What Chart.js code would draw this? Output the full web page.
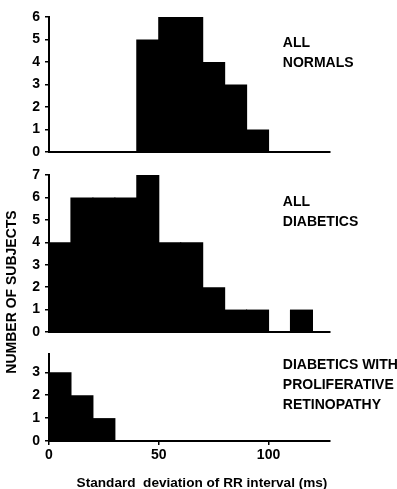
<!DOCTYPE html>
<html><head><meta charset="utf-8">
<script src="https://cdn.jsdelivr.net/npm/chart.js@4"></script>
<style>
html,body{margin:0;padding:0;background:#fff;width:397px;height:489px;overflow:hidden}
canvas{position:absolute;left:0;top:0}
</style></head>
<body>
<canvas id="c1" width="397" height="489"></canvas>
<canvas id="c2" width="397" height="489"></canvas>
<canvas id="c3" width="397" height="489"></canvas>
<script>
// bin centres (ms) of 10 ms wide bins
const binCenters = [5, 15, 25, 35, 45, 55, 65, 75, 85, 95, 105, 115, 125];
const allNormals = [0, 0, 0, 0, 5, 6, 6, 4, 3, 1, 0, 0, 0];
const allDiabetics = [4, 6, 6, 6, 7, 4, 4, 2, 1, 1, 0, 1, 0];
const proliferativeRetinopathy = [3, 2, 1, 0, 0, 0, 0, 0, 0, 0, 0, 0, 0];
const xTickValues = [0, 50, 100];
const normalsLabel = ["ALL", "NORMALS"];
const diabeticsLabel = ["ALL", "DIABETICS"];
const retinopathyLabel = ["DIABETICS WITH", "PROLIFERATIVE", "RETINOPATHY"];
const yTitle = "NUMBER OF SUBJECTS";
const xTitle = "Standard  deviation of RR interval (ms)";

const FONT = '"Liberation Sans", Arial, sans-serif';
Chart.defaults.font.family = FONT;
Chart.defaults.color = '#000';

function makePanel(id, values, yMax, pad, labelLines, labelY, isBottom, extra) {
  const annot = {
    id: 'annot' + id,
    afterDraw(chart) {
      const ctx = chart.ctx;
      ctx.save();
      ctx.font = 'bold 14px ' + FONT;
      ctx.fillStyle = '#000';
      ctx.textBaseline = 'middle';
      ctx.textAlign = 'left';
      const x = chart.scales.x.getPixelForValue(106.5);
      labelLines.forEach((t, i) => ctx.fillText(t, x, labelY + i * 20));
      ctx.restore();
      if (extra) extra(chart);
    }
  };
  return new Chart(document.getElementById(id), {
    type: 'bar',
    data: {
      datasets: [{
        data: binCenters.map((c, i) => ({x: c, y: values[i]})),
        backgroundColor: '#000',
        borderWidth: 0,
        barPercentage: 1.05,
        categoryPercentage: 1
      }]
    },
    options: {
      responsive: false,
      animation: false,
      devicePixelRatio: 1,
      layout: {padding: {left: 0, right: 67, top: pad.top, bottom: pad.bottom}},
      plugins: {legend: {display: false}, tooltip: {enabled: false}},
      scales: {
        x: {
          type: 'linear', min: 0, max: 128, offset: false,
          grid: {display: isBottom, offset: false, drawOnChartArea: false, drawTicks: true, tickLength: 4, color: '#000', lineWidth: 1.5},
          border: {display: true, color: '#000', width: 2},
          ticks: {
            display: isBottom, stepSize: 50, includeBounds: false, padding: 2,
            font: {size: 14, weight: 'bold'}, color: '#000', maxRotation: 0
          },
          afterBuildTicks: s => { if (isBottom) s.ticks = xTickValues.map(v => ({value: v})); },
          afterFit: s => { s.height = isBottom ? 48 : 0; }
        },
        y: {
          min: 0, max: yMax,
          grid: {display: true, drawOnChartArea: false, drawTicks: true, tickLength: 4, color: '#000', lineWidth: 1.5},
          border: {display: true, color: '#000', width: 2},
          ticks: {stepSize: 1, includeBounds: false, padding: 5, font: {size: 14, weight: 'bold'}, color: '#000'},
          afterFit: s => { s.width = 49; }
        }
      }
    },
    plugins: [annot]
  });
}

makePanel('c1', allNormals, 6, {top: 17, bottom: 489 - 152}, normalsLabel, 43, false);
makePanel('c2', allDiabetics, 7, {top: 175, bottom: 489 - 332}, diabeticsLabel, 202, false);
makePanel('c3', proliferativeRetinopathy, 3.8, {top: 354, bottom: 0}, retinopathyLabel, 365, true, chart => {
  const ctx = chart.ctx;
  ctx.save();
  ctx.font = 'bold 14px ' + FONT;
  ctx.fillStyle = '#000';
  ctx.textAlign = 'center';
  ctx.textBaseline = 'middle';
  ctx.save();
  ctx.translate(12, 292);
  ctx.rotate(-Math.PI / 2);
  ctx.fillText(yTitle, 0, 0);
  ctx.restore();
  ctx.font = 'bold 13.6px ' + FONT;
  ctx.fillText(xTitle, 202, 483);
  ctx.restore();
});
</script>
</body></html>
